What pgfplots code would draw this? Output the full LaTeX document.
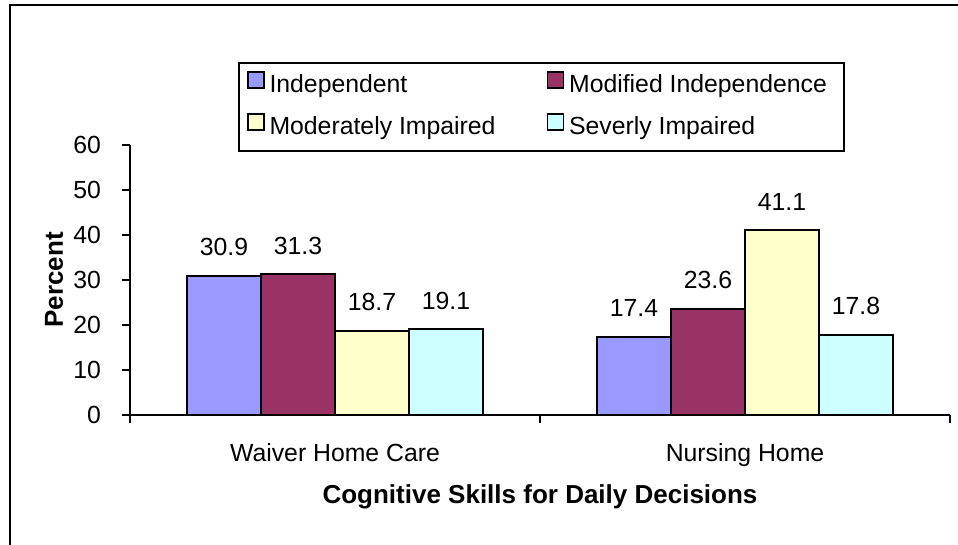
\documentclass[border=0pt]{standalone}
\usepackage{pgfplots}
\pgfplotsset{compat=1.18}
\usepackage{fontspec}
\setmainfont{Liberation Sans}
\definecolor{cIndep}{HTML}{9999FF}
\definecolor{cMod}{HTML}{993366}
\definecolor{cModer}{HTML}{FFFFCC}
\definecolor{cSev}{HTML}{CCFFFF}
\begin{document}
\begin{tikzpicture}
\path[use as bounding box] (0,0) rectangle (479pt,-272.5pt);
\draw[line width=1pt] (5pt,-272.5pt) -- (5pt,-2.5pt) -- (479pt,-2.5pt);
\begin{axis}[
  at={(65pt,-207.5pt)}, anchor=south west,
  scale only axis, width=410pt, height=135pt,
  font=\fontsize{12.4}{14}\selectfont,
  /pgf/number format/assume math mode=true,
  axis lines*=left,
  axis line style={line width=0.9pt},
  xmin=-0.5, xmax=1.5, ymin=0, ymax=60,
  ytick={0,10,...,60},
  every tick/.style={black, line width=0.9pt},
  tick align=outside,
  major tick length=4pt,
  yticklabel style={anchor=east, xshift=-7pt},
  xtick={-0.5,0.5,1.5},
  xticklabels={},
  extra x ticks={0,1},
  extra x tick labels={Waiver Home Care, Nursing Home},
  extra x tick style={major tick length=0pt, xticklabel style={anchor=base, yshift=-23pt}},
  ylabel={\fontsize{13}{15}\selectfont\bfseries Percent},
  ylabel style={at={(axis description cs:-0.0927,0.5)}, anchor=center},
  xlabel={\fontsize{13}{15}\selectfont\bfseries Cognitive Skills for Daily Decisions},
  xlabel style={at={(axis description cs:0.5,0)}, anchor=base, yshift=-44pt},
  ybar=0pt, bar width=37pt,
  every axis plot/.append style={draw=black, line width=0.9pt},
  nodes near coords={\pgfmathprintnumber[fixed,fixed zerofill,precision=1]{\pgfplotspointmeta}},
  every node near coord/.append style={anchor=base, yshift=10pt, font=\fontsize{12.4}{14}\selectfont, text=black},
  legend columns=2,
  legend style={at={(axis description cs:0,1)}, anchor=north west, xshift=54pt, yshift=41.5pt,
    draw=black, line width=0.9pt, inner xsep=4pt, inner ysep=1pt,
    font=\fontsize{12.4}{14}\selectfont,
    nodes={text width=131pt, align=flush left, text height=8.6pt, text depth=2.4pt, inner xsep=2.5pt, inner ysep=5pt},
    /tikz/every even column/.append style={column sep=5pt}},
  legend cell align=left,
  legend image code/.code={\draw[#1, line width=0.8pt] (0pt,-1pt) rectangle (8pt,7pt);},
]
\addplot[fill=cIndep] coordinates {(0,30.9) (1,17.4)};
\addplot[fill=cMod] coordinates {(0,31.3) (1,23.6)};
\addplot[fill=cModer] coordinates {(0,18.7) (1,41.1)};
\addplot[fill=cSev] coordinates {(0,19.1) (1,17.8)};
\legend{Independent, Modified Independence, Moderately Impaired, Severly Impaired}
\end{axis}
\end{tikzpicture}
\end{document}
